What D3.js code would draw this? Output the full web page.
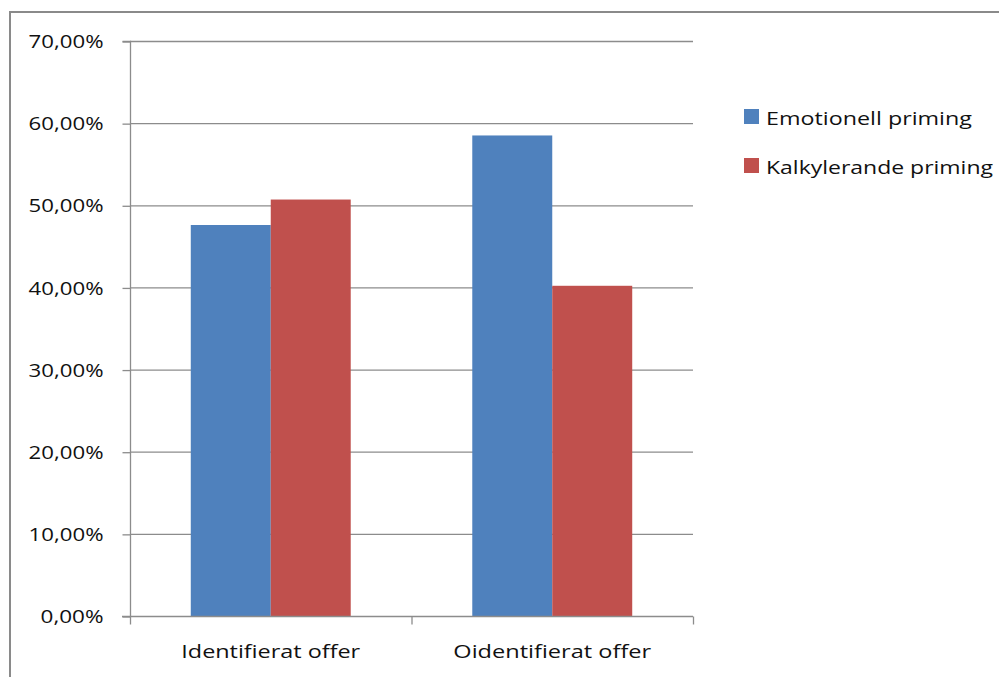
<!DOCTYPE html>
<html><head><meta charset="utf-8">
<script src="https://cdn.jsdelivr.net/npm/d3@7"></script>
<style>body{margin:0;background:#fff;} svg{display:block;}</style>
</head><body><svg id="c" width="999" height="677"></svg>
<script>
const categories = ["Identifierat offer", "Oidentifierat offer"];
const seriesNames = ["Emotionell priming", "Kalkylerande priming"];
const emotionell = [47.6, 58.5];
const kalkylerande = [50.7, 40.2];
const yTicks = [0, 10, 20, 30, 40, 50, 60, 70];
const colors = ["#4F81BD", "#C0504D"];

const svg = d3.select("#c");
const font = "'Open Sans', sans-serif";
const fs = 19;
// the reference text is horizontally stretched; scale glyphs to a target width
function stretch(sel, widthFn) {
  sel.each(function(d, i) {
    const el = d3.select(this);
    const w = widthFn(d, i);
    const natural = this.getComputedTextLength();
    const sx = w / natural;
    const ax = +el.attr("x") || 0;
    el.attr("x", 0).attr("transform", `translate(${ax},0) scale(${sx},1)`);
  });
}
// outer border
svg.append("rect").attr("x", 10).attr("y", 12).attr("width", 1000).attr("height", 700)
  .attr("fill", "none").attr("stroke", "#8a8a8a").attr("stroke-width", 2);

const x0 = 130, x1 = 693, yTop = 41, yBot = 616;
const x = d3.scaleBand().domain(categories).range([x0, x1]).paddingInner(0).paddingOuter(0);
const y = d3.scaleLinear().domain([0, 70]).range([yBot, yTop]);

// gridlines
svg.append("g").selectAll("line").data(yTicks.filter(t => t > 0)).join("line")
  .attr("x1", x0).attr("x2", x1).attr("y1", d => y(d) + 0.5).attr("y2", d => y(d) + 0.5)
  .attr("stroke", "#8c8c8c").attr("stroke-width", 1.3);

// bars
const data = categories.map((c, i) => ({c, vals: [emotionell[i], kalkylerande[i]]}));
const inner = d3.scaleBand().domain([0, 1]).range([0, x.bandwidth()]).paddingOuter(0.76).paddingInner(0);
svg.append("g").selectAll("g").data(data).join("g")
  .attr("transform", d => `translate(${x(d.c)},0)`)
  .selectAll("rect").data(d => d.vals).join("rect")
  .attr("x", (v, i) => inner(i)).attr("width", inner.bandwidth())
  .attr("y", v => y(v)).attr("height", v => yBot - y(v))
  .attr("fill", (v, i) => colors[i]);

// y axis
const yAxis = d3.axisLeft(y).tickValues(yTicks).tickSize(8).tickPadding(19)
  .tickFormat(d => d3.format(".2f")(d).replace(".", ",") + "%");
const gy = svg.append("g").attr("transform", `translate(${x0 + 0.5},0.5)`).call(yAxis);
gy.select(".domain").attr("stroke", "#8c8c8c").attr("stroke-width", 1.3).attr("d", `M-8,${yTop}H0V${yBot}`);
gy.selectAll(".tick line").attr("stroke", "#8c8c8c").attr("stroke-width", 1.3);
gy.selectAll(".tick text").attr("font-family", font).attr("font-size", fs).attr("fill", "#111")
  .call(stretch, d => d === 0 ? 63 : 75);

// x axis
const xAxis = d3.axisBottom(x).tickSize(0).tickPadding(28);
const gx = svg.append("g").attr("transform", `translate(0,${yBot + 0.5})`).call(xAxis);
gx.select(".domain").attr("stroke", "#8c8c8c").attr("stroke-width", 1.3).attr("d", `M${x0 - 8},0H${x1}`);
gx.selectAll(".tick text").attr("font-family", font).attr("font-size", fs).attr("fill", "#111")
  .call(stretch, (d, i) => [179, 198][i]);
// category boundary ticks
const bounds = [x0, x0 + x.bandwidth(), x1];
gx.append("g").selectAll("line").data(bounds).join("line")
  .attr("x1", d => d + 0.5).attr("x2", d => d + 0.5).attr("y1", 0).attr("y2", 8)
  .attr("stroke", "#8c8c8c").attr("stroke-width", 1.3);

// legend
const lg = svg.append("g").selectAll("g").data(seriesNames).join("g")
  .attr("transform", (d, i) => `translate(744,${109 + i * 49})`);
lg.append("rect").attr("width", 15).attr("height", 15).attr("fill", (d, i) => colors[i]);
lg.append("text").attr("x", 22).attr("y", 9).attr("dy", "0.35em")
  .attr("font-family", font).attr("font-size", fs).attr("fill", "#111").text(d => d)
  .call(stretch, (d, i) => [206, 227][i]);
</script></body></html>
